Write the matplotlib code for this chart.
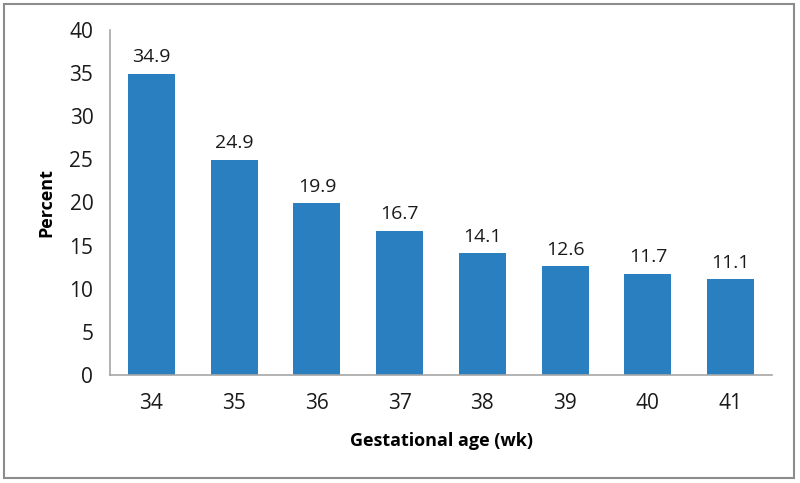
import matplotlib
matplotlib.use("Agg")
import matplotlib.pyplot as plt
from matplotlib.patches import Rectangle

categories = ["34", "35", "36", "37", "38", "39", "40", "41"]
values = [34.9, 24.9, 19.9, 16.7, 14.1, 12.6, 11.7, 11.1]
yticks = [0, 5, 10, 15, 20, 25, 30, 35, 40]

plt.rcParams['font.family'] = ['Open Sans', 'DejaVu Sans']

W, H = 800, 483
fig = plt.figure(figsize=(W / 100, H / 100), dpi=100)
fig.patch.set_facecolor("white")

# outer border
fig.add_artist(Rectangle((4 / W, 1 - 478 / H), 790 / W, 474 / H, transform=fig.transFigure,
                         fill=False, edgecolor="#8c8c8c", linewidth=1.5))

ax = fig.add_axes([110 / W, 1 - 375 / H, (772 - 110) / W, (375 - 30) / H])
x = range(len(categories))
ax.bar(x, values, width=0.57, color="#2a7fc0")
for xi, v in zip(x, values):
    ax.text(xi, v + 0.9, f"{v:.1f}", ha="center", va="bottom", fontsize=14, color="#1a1a1a")

ax.set_xlim(-0.5, len(categories) - 0.5)
ax.set_ylim(0, 40)
ax.set_yticks(yticks)
ax.set_xticks(list(x))
ax.set_xticklabels(categories)
ax.tick_params(axis="both", length=0, labelsize=15, colors="#1a1a1a")
ax.tick_params(axis="y", pad=12)
ax.tick_params(axis="x", pad=13)
for s in ["top", "right"]:
    ax.spines[s].set_visible(False)
for s in ["left", "bottom"]:
    ax.spines[s].set_color("#a6a6a6")
    ax.spines[s].set_linewidth(1.2)

ax.set_ylabel("Percent", fontsize=13, fontweight="bold", labelpad=10)
ax.set_xlabel("Gestational age (wk)", fontsize=13, fontweight="bold", labelpad=13)

fig.savefig("out.png", dpi=100)
